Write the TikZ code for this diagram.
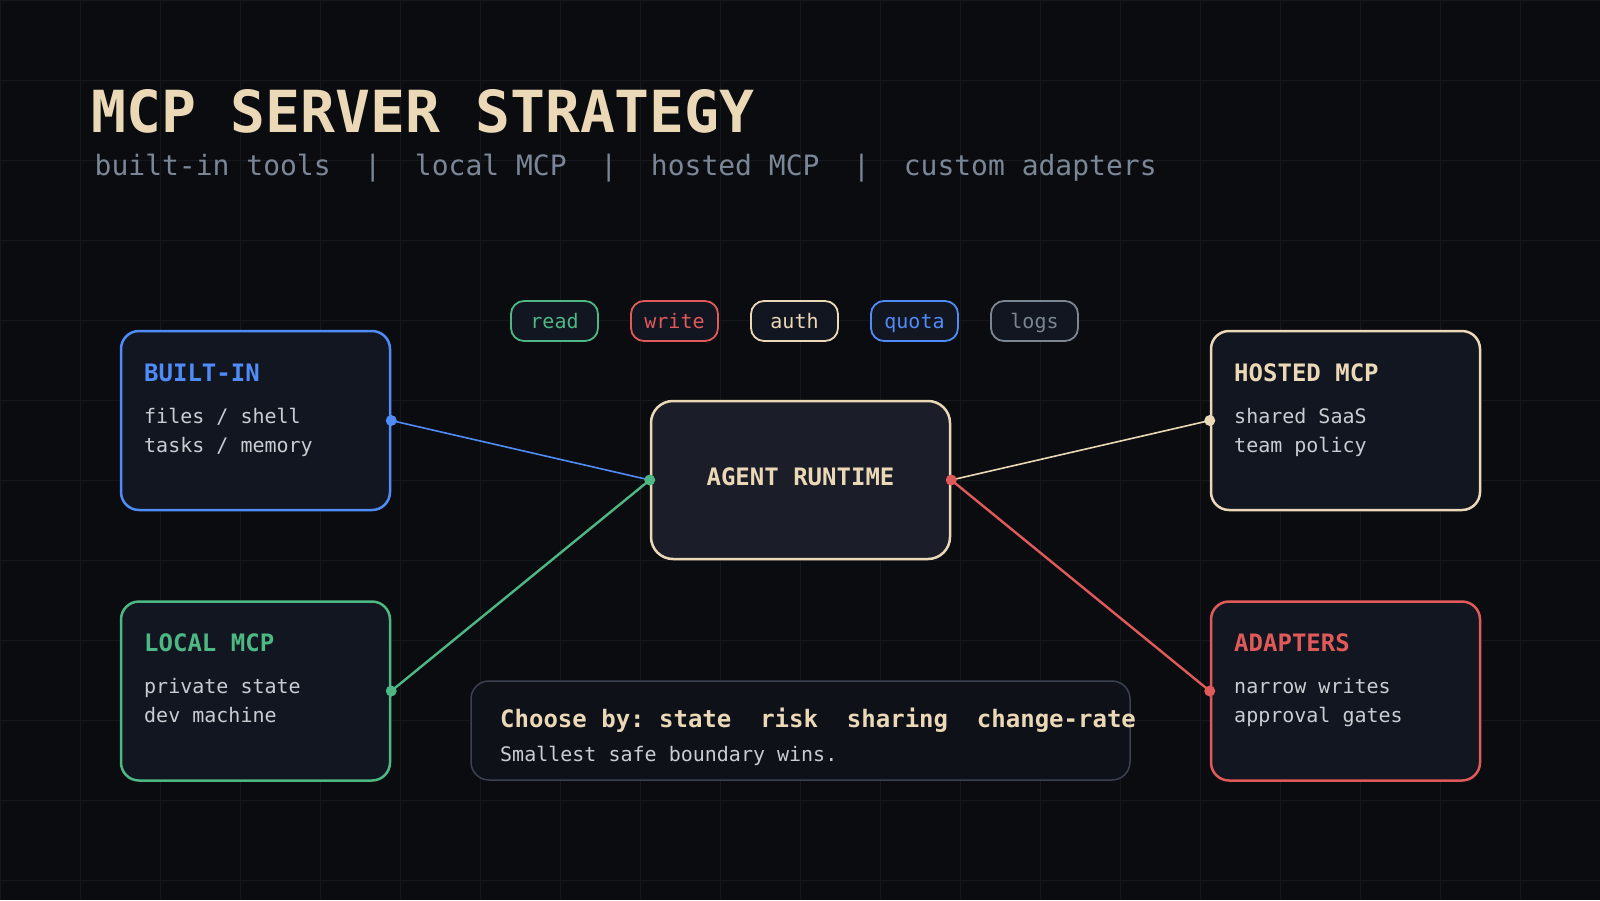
\documentclass[tikz,border=0pt]{standalone}
\usepackage{fontspec}
\setmonofont{DejaVu Sans Mono}

\definecolor{bgdark}{HTML}{0B0C10}
\definecolor{gridln}{HTML}{16181E}
\definecolor{mcpcream}{HTML}{EBD8B7}
\definecolor{mcpsub}{HTML}{7B8797}
\definecolor{mcpblue}{HTML}{4F8CF7}
\definecolor{mcpgreen}{HTML}{4DB883}
\definecolor{mcpred}{HTML}{E05A5A}
\definecolor{mcpgray}{HTML}{7C8592}
\definecolor{cardfill}{HTML}{121620}
\definecolor{corefill}{HTML}{1B1E29}
\definecolor{bodytext}{HTML}{C9CDD3}
\definecolor{noteline}{HTML}{3B4150}
\definecolor{notefill}{HTML}{0E1118}

\newcommand{\pxsize}[2]{\fontsize{#1}{#2}\selectfont}

\begin{document}
\begin{tikzpicture}[
  x=1pt, y=-1pt,
  card/.style={draw=#1, fill=cardfill, line width=2.5pt, rounded corners=18pt,
    minimum width=269pt, minimum height=179pt, inner sep=0pt},
  cardtitle/.style={anchor=base west, inner sep=0pt, text=#1, font=\ttfamily\bfseries\pxsize{24}{28}},
  cardbody/.style={anchor=base west, inner sep=0pt, text=bodytext, font=\ttfamily\pxsize{20}{24}},
  chip/.style={draw=#1, text=#1, fill=cardfill, line width=1.8pt, rounded corners=13pt,
    minimum width=87pt, minimum height=40pt, inner sep=0pt, text height=18pt, text depth=4pt,
    font=\ttfamily\pxsize{20}{24}},
  core/.style={draw=mcpcream, fill=corefill, line width=2.5pt, rounded corners=22pt,
    minimum width=299pt, minimum height=158pt, inner sep=0pt, text depth=7.5pt,
    text=mcpcream, font=\ttfamily\bfseries\pxsize{24}{28}},
  wire/.style={draw=#1, line width=1.6pt},
  dot/.style={fill=#1},
  note/.style={draw=noteline, fill=notefill, line width=1.5pt, rounded corners=18pt,
    minimum width=659pt, minimum height=99pt, inner sep=0pt}
]
\useasboundingbox (0,0) rectangle (1600,900);
\fill[bgdark] (0,0) rectangle (1600,900);
\draw[gridln, line width=1pt] (0,0) grid[step=80pt] (1600,900);

% === Heading ===
\node[anchor=base west, inner sep=0pt, text=mcpcream, font=\ttfamily\bfseries\pxsize{58}{60}] (title) at (91,132) {MCP SERVER STRATEGY};
\node[anchor=base west, inner sep=0pt, text=mcpsub, font=\ttfamily\pxsize{28}{32}] (subtitle) at (94.5,175)
  {built-in tools~~|~~local MCP~~|~~hosted MCP~~|~~custom adapters};

% === Chips ===
\node[chip=mcpgreen] (read) at (554.5,321) {read};
\node[chip=mcpred] (write) at (674.5,321) {write};
\node[chip=mcpcream] (auth) at (794.5,321) {auth};
\node[chip=mcpblue] (quota) at (914.5,321) {quota};
\node[chip=mcpgray] (logs) at (1034.5,321) {logs};

% === Cards ===
\node[card=mcpblue] (builtin) at (255.5,420.5) {};
\node[cardtitle=mcpblue] (builtinT) at (144,381) {BUILT-IN};
\node[cardbody] (builtinB1) at (144,423) {files / shell};
\node[cardbody] (builtinB2) at (144,452) {tasks / memory};

\node[card=mcpgreen] (local) at (255.5,691) {};
\node[cardtitle=mcpgreen] (localT) at (144,651) {LOCAL MCP};
\node[cardbody] (localB1) at (144,693) {private state};
\node[cardbody] (localB2) at (144,722) {dev machine};

\node[card=mcpcream] (hosted) at (1345.5,420.5) {};
\node[cardtitle=mcpcream] (hostedT) at (1234,381) {HOSTED MCP};
\node[cardbody] (hostedB1) at (1234,423) {shared SaaS};
\node[cardbody] (hostedB2) at (1234,452) {team policy};

\node[card=mcpred] (adapters) at (1345.5,691) {};
\node[cardtitle=mcpred] (adaptersT) at (1234,651) {ADAPTERS};
\node[cardbody] (adaptersB1) at (1234,693) {narrow writes};
\node[cardbody] (adaptersB2) at (1234,722) {approval gates};

% === Runtime ===
\node[core] (runtime) at (800.5,480) {AGENT RUNTIME};

% === Wires ===
\draw[wire=mcpblue] (builtin.east) -- (runtime.west);
\draw[wire=mcpcream] (hosted.west) -- (runtime.east);
\draw[wire=mcpgreen, line width=2.4pt] (local.east) -- (runtime.west);
\draw[wire=mcpred, line width=2.4pt] (adapters.west) -- (runtime.east);

\fill[dot=mcpblue] (builtin.east) circle[radius=5.5pt];
\fill[dot=mcpgreen] (local.east) circle[radius=5.5pt];
\fill[dot=mcpcream] (hosted.west) circle[radius=5.5pt];
\fill[dot=mcpred] (adapters.west) circle[radius=5.5pt];
\fill[dot=mcpgreen] (runtime.west) circle[radius=5.5pt];
\fill[dot=mcpred] (runtime.east) circle[radius=5.5pt];

% === Note ===
\node[note] (note) at (800.5,730.5) {};
\node[anchor=base west, inner sep=0pt, text=mcpcream, font=\ttfamily\bfseries\pxsize{24}{28}] (noteT) at (500,727)
  {Choose by:~state~~risk~~sharing~~change-rate};
\node[anchor=base west, inner sep=0pt, text=bodytext, font=\ttfamily\pxsize{20}{24}] (noteB) at (500,761)
  {Smallest safe boundary wins.};

\end{tikzpicture}
\end{document}
